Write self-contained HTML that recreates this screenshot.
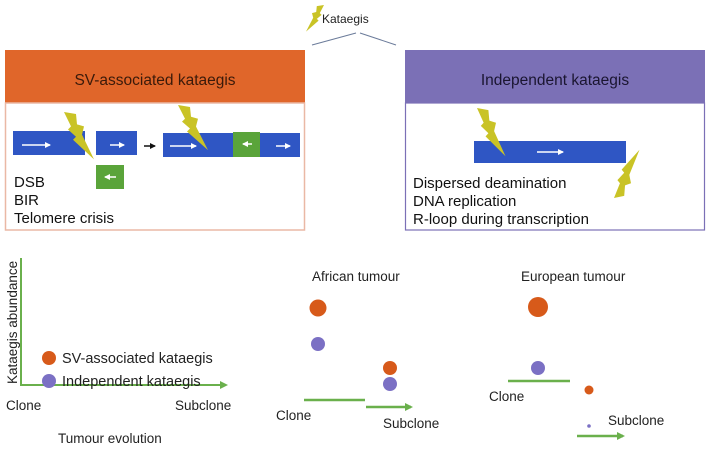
<!DOCTYPE html>
<html><head><style>
body{margin:0;width:720px;height:462px;background:#fff;overflow:hidden;font-family:"Liberation Sans",sans-serif}
</style></head><body>
<svg width="720" height="462" xmlns="http://www.w3.org/2000/svg" font-family="Liberation Sans, sans-serif">
<defs>
<marker id="g" markerWidth="8" markerHeight="8" refX="6" refY="4" orient="auto" markerUnits="userSpaceOnUse"><path d="M0,0 L8,4 L0,8 Z" fill="#6ab04c"/></marker>
<marker id="w" markerWidth="6" markerHeight="6" refX="5" refY="3" orient="auto" markerUnits="userSpaceOnUse"><path d="M0,0 L6,3 L0,6 Z" fill="#fff"/></marker>
<marker id="k" markerWidth="6" markerHeight="6" refX="5" refY="3" orient="auto" markerUnits="userSpaceOnUse"><path d="M0,0 L6,3 L0,6 Z" fill="#111"/></marker>
<g id="bolt"><polygon points="0,0 12,2 13,12 20,14 18,22 30,46 9,27 12,24 4,17 7,14" fill="#c9c326"/></g>
</defs>
<use href="#bolt" transform="translate(324,5) scale(-0.6,0.58)"/>
<text x="322" y="23" font-size="12" fill="#222">Kataegis</text>
<line x1="312" y1="45" x2="356" y2="33" stroke="#6b7b9a" stroke-width="1"/>
<line x1="360" y1="33" x2="396" y2="45" stroke="#6b7b9a" stroke-width="1"/>
<rect x="5" y="50" width="300" height="53" fill="#e0662a"/>
<rect x="5.5" y="103" width="299" height="127" fill="#fff" stroke="#eab8a5" stroke-width="1.5"/>
<text x="155" y="85" font-size="15.5" text-anchor="middle" fill="#3a1a0a">SV-associated kataegis</text>
<rect x="13" y="131" width="72" height="24" fill="#2f56c4"/>
<line x1="22" y1="145" x2="50" y2="145" stroke="#fff" stroke-width="1.5" marker-end="url(#w)"/>
<rect x="96" y="131" width="41" height="24" fill="#2f56c4"/>
<line x1="110" y1="145" x2="124" y2="145" stroke="#fff" stroke-width="1.5" marker-end="url(#w)"/>
<line x1="144" y1="146" x2="155" y2="146" stroke="#111" stroke-width="1.5" marker-end="url(#k)"/>
<rect x="163" y="133" width="70" height="24" fill="#2f56c4"/>
<line x1="170" y1="146" x2="196" y2="146" stroke="#fff" stroke-width="1.5" marker-end="url(#w)"/>
<rect x="233" y="132" width="27" height="25" fill="#5aa43a"/>
<line x1="252" y1="144" x2="243" y2="144" stroke="#fff" stroke-width="1.5" marker-end="url(#w)"/>
<rect x="260" y="133" width="40" height="24" fill="#2f56c4"/>
<line x1="276" y1="146" x2="290" y2="146" stroke="#fff" stroke-width="1.5" marker-end="url(#w)"/>
<rect x="96" y="165" width="28" height="24" fill="#5aa43a"/>
<line x1="116" y1="177" x2="105" y2="177" stroke="#fff" stroke-width="1.5" marker-end="url(#w)"/>
<use href="#bolt" transform="translate(64,112) scale(1,1.03)"/>
<use href="#bolt" transform="translate(178,105) scale(1,0.98)"/>
<text font-size="15" fill="#111"><tspan x="14" y="187">DSB</tspan><tspan x="14" y="205">BIR</tspan><tspan x="14" y="223">Telomere crisis</tspan></text>
<rect x="405" y="50" width="300" height="53" fill="#7b70b6"/>
<rect x="405.5" y="103" width="299" height="127" fill="#fff" stroke="#7b70b6" stroke-width="1.2"/>
<text x="555" y="85" font-size="15.5" text-anchor="middle" fill="#1a1530">Independent kataegis</text>
<rect x="474" y="141" width="152" height="22" fill="#2f56c4"/>
<line x1="537" y1="152" x2="563" y2="152" stroke="#fff" stroke-width="1.5" marker-end="url(#w)"/>
<use href="#bolt" transform="translate(477,108) scale(0.95,1.05)"/>
<use href="#bolt" transform="translate(614,198) scale(0.85,-1.05)"/>
<text font-size="15" fill="#111"><tspan x="413" y="188">Dispersed deamination</tspan><tspan x="413" y="206">DNA replication</tspan><tspan x="413" y="224">R-loop during transcription</tspan></text>
<line x1="21" y1="258" x2="21" y2="386" stroke="#6ab04c" stroke-width="2"/>
<line x1="20" y1="385" x2="226" y2="385" stroke="#6ab04c" stroke-width="2" marker-end="url(#g)"/>
<text transform="translate(17,384) rotate(-90)" font-size="13.5" fill="#222">Kataegis abundance</text>
<text x="6" y="410" font-size="13.5" fill="#222">Clone</text>
<text x="175" y="410" font-size="13.5" fill="#222">Subclone</text>
<text x="58" y="443" font-size="13.5" fill="#222">Tumour evolution</text>
<circle cx="49" cy="358" r="7" fill="#d75a1a"/>
<circle cx="49" cy="381" r="7" fill="#7b70c4"/>
<text x="62" y="363" font-size="14.5" fill="#222">SV-associated kataegis</text>
<text x="62" y="386" font-size="14.5" fill="#222">Independent kataegis</text>
<text x="312" y="281" font-size="13.5" fill="#222">African tumour</text>
<circle cx="318" cy="308" r="8.5" fill="#d75a1a"/>
<circle cx="318" cy="344" r="7" fill="#7b70c4"/>
<line x1="304" y1="400" x2="365" y2="400" stroke="#6ab04c" stroke-width="2.5"/>
<line x1="366" y1="407" x2="411" y2="407" stroke="#6ab04c" stroke-width="2.5" marker-end="url(#g)"/>
<circle cx="390" cy="368" r="7" fill="#d75a1a"/>
<circle cx="390" cy="384" r="7" fill="#7b70c4"/>
<text x="276" y="420" font-size="13.5" fill="#222">Clone</text>
<text x="383" y="428" font-size="13.5" fill="#222">Subclone</text>
<text x="521" y="281" font-size="13.5" fill="#222">European tumour</text>
<circle cx="538" cy="307" r="10" fill="#d75a1a"/>
<circle cx="538" cy="368" r="7" fill="#7b70c4"/>
<line x1="508" y1="381" x2="570" y2="381" stroke="#6ab04c" stroke-width="2.5"/>
<text x="489" y="401" font-size="13.5" fill="#222">Clone</text>
<circle cx="589" cy="390" r="4.5" fill="#d75a1a"/>
<circle cx="589" cy="426" r="1.8" fill="#7b70c4"/>
<text x="608" y="425" font-size="13.5" fill="#222">Subclone</text>
<line x1="577" y1="436" x2="623" y2="436" stroke="#6ab04c" stroke-width="2.5" marker-end="url(#g)"/>
</svg>
</body></html>
